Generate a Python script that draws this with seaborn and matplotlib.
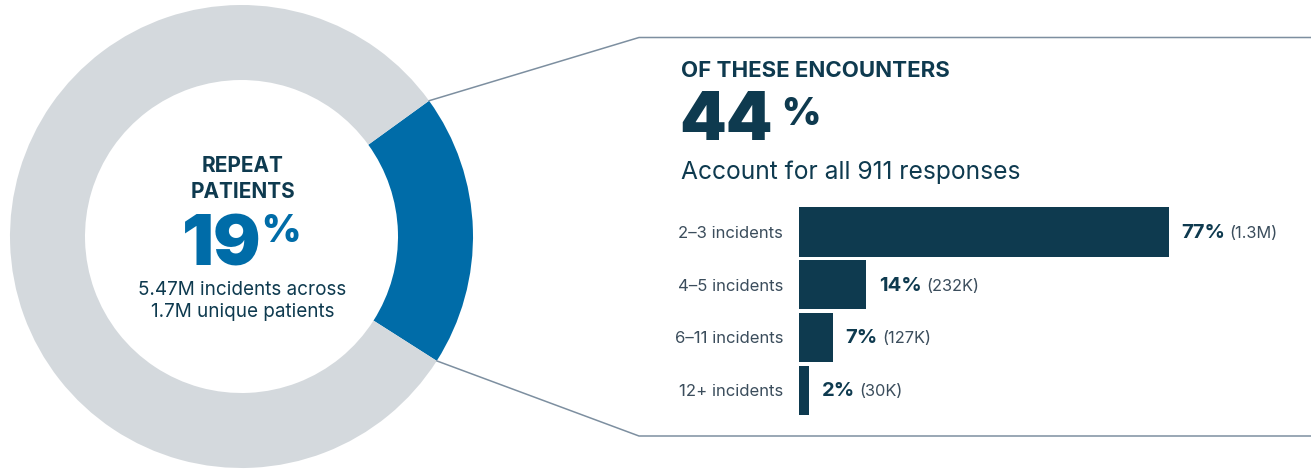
import numpy as np
import pandas as pd
import matplotlib
matplotlib.use("Agg")
import matplotlib.pyplot as plt
import seaborn as sns

# ---- data ----
donut_labels = ["Repeat patients", "Other"]
donut_values = [19, 81]
categories = ["2–3 incidents", "4–5 incidents", "6–11 incidents", "12+ incidents"]
shares = [77, 14, 7, 2]
counts = ["(1.3M)", "(232K)", "(127K)", "(30K)"]
headline_share = 44

NAVY = "#0e3a4f"
BLUE = "#006ca8"
GREY = "#d4d9dd"
SLATE = "#3b4d5c"
LINE = "#7d8fa0"

sns.set_theme(style="white")
plt.rcParams["font.family"] = ["Inter", "DejaVu Sans"]

W, H = 1311, 470
fig = plt.figure(figsize=(W / 100, H / 100), dpi=100)
fig.patch.set_facecolor("white")

def fr(x0, y0, x1, y1):
    # pixel box (top-left origin) -> figure fraction rect
    return [x0 / W, 1 - y1 / H, (x1 - x0) / W, (y1 - y0) / H]

# ---- donut ----
cx, cy, R, r_in = 241.5, 236.5, 231.5, 156.5
ax_pie = fig.add_axes(fr(cx - R, cy - R, cx + R, cy + R))
start = -32.5
wedges, _ = ax_pie.pie(donut_values, colors=[BLUE, GREY], startangle=start,
                       counterclock=True, radius=1,
                       wedgeprops=dict(width=(R - r_in) / R, linewidth=0))
ax_pie.set_xlim(-1, 1)
ax_pie.set_ylim(-1, 1)
ax_pie.set_aspect("equal")
ax_pie.axis("off")

# ---- bars ----
bar_top, pitch = 205.6, 52.75
ax_bar = fig.add_axes(fr(799, bar_top, 799 + 480, bar_top + pitch * 4))
df = pd.DataFrame({"cat": categories, "share": shares})
sns.barplot(data=df, y="cat", x="share", color=NAVY, saturation=1,
            width=0.935, orient="h", ax=ax_bar, linewidth=0)
ax_bar.set_xlim(0, 100)
ax_bar.set_ylim(3.5, -0.5)
ax_bar.set_xlabel("")
ax_bar.set_ylabel("")
ax_bar.set_xticks([])
for s in ax_bar.spines.values():
    s.set_visible(False)
ax_bar.tick_params(axis="y", length=0, pad=11.5, labelsize=12, labelcolor=SLATE)
ax_bar.set_facecolor("none")

# ---- overlay for text & connectors ----
ov = fig.add_axes([0, 0, 1, 1])
ov.set_xlim(0, W)
ov.set_ylim(H, 0)
ov.axis("off")
ov.set_facecolor("none")

a0 = np.deg2rad(start)
a1 = np.deg2rad(start + 360 * donut_values[0] / sum(donut_values))
top_pt = (cx + R * np.cos(a1), cy - R * np.sin(a1))
bot_pt = (cx + R * np.cos(a0), cy - R * np.sin(a0))
ov.plot([top_pt[0], 639, W], [top_pt[1], 37.5, 37.5], color=LINE, lw=1.1,
        solid_joinstyle="miter")
ov.plot([bot_pt[0], 639, W], [bot_pt[1], 436, 436], color=LINE, lw=1.1,
        solid_joinstyle="miter")

# donut centre text
ov.text(cx + 1, 172, "REPEAT", ha="center", va="baseline", fontsize=15,
        fontweight="bold", color=NAVY)
ov.text(cx + 1, 198, "PATIENTS", ha="center", va="baseline", fontsize=15,
        fontweight="bold", color=NAVY)
ov.text(262, 265, f"{donut_values[0]}", ha="right", va="baseline", fontsize=51,
        fontweight="black", color=BLUE)
ov.text(261, 242, "%", ha="left", va="baseline", fontsize=27,
        fontweight="black", color=BLUE)
ov.text(cx + 1, 295, "5.47M incidents across", ha="center", va="baseline",
        fontsize=13.6, color=NAVY)
ov.text(cx + 1, 317, "1.7M unique patients", ha="center", va="baseline",
        fontsize=13.6, color=NAVY)

# right header
ov.text(681, 77, "OF THESE ENCOUNTERS", ha="left", va="baseline", fontsize=16,
        fontweight="bold", color=NAVY)
ov.text(679, 140, f"{headline_share}", ha="left", va="baseline", fontsize=48,
        fontweight="black", color=NAVY)
ov.text(781, 125, "%", ha="left", va="baseline", fontsize=27,
        fontweight="black", color=NAVY)
ov.text(681, 179, "Account for all 911 responses", ha="left", va="baseline",
        fontsize=17.7, color=NAVY)

# bar value labels
fig.canvas.draw()
renderer = fig.canvas.get_renderer()
for i, (s, c) in enumerate(zip(shares, counts)):
    x_end = 799 + s * 4.8 + 13
    yc = bar_top + pitch * (i + 0.5) + 6
    tb = ov.text(x_end, yc, f"{s}%", ha="left", va="baseline", fontsize=14.5,
                 fontweight="bold", color=NAVY)
    bb = tb.get_window_extent(renderer)
    ov.text(bb.x1 + 4, yc, c, ha="left", va="baseline", fontsize=11.8,
            color=SLATE)

fig.savefig("out.png", dpi=100, facecolor="white")
